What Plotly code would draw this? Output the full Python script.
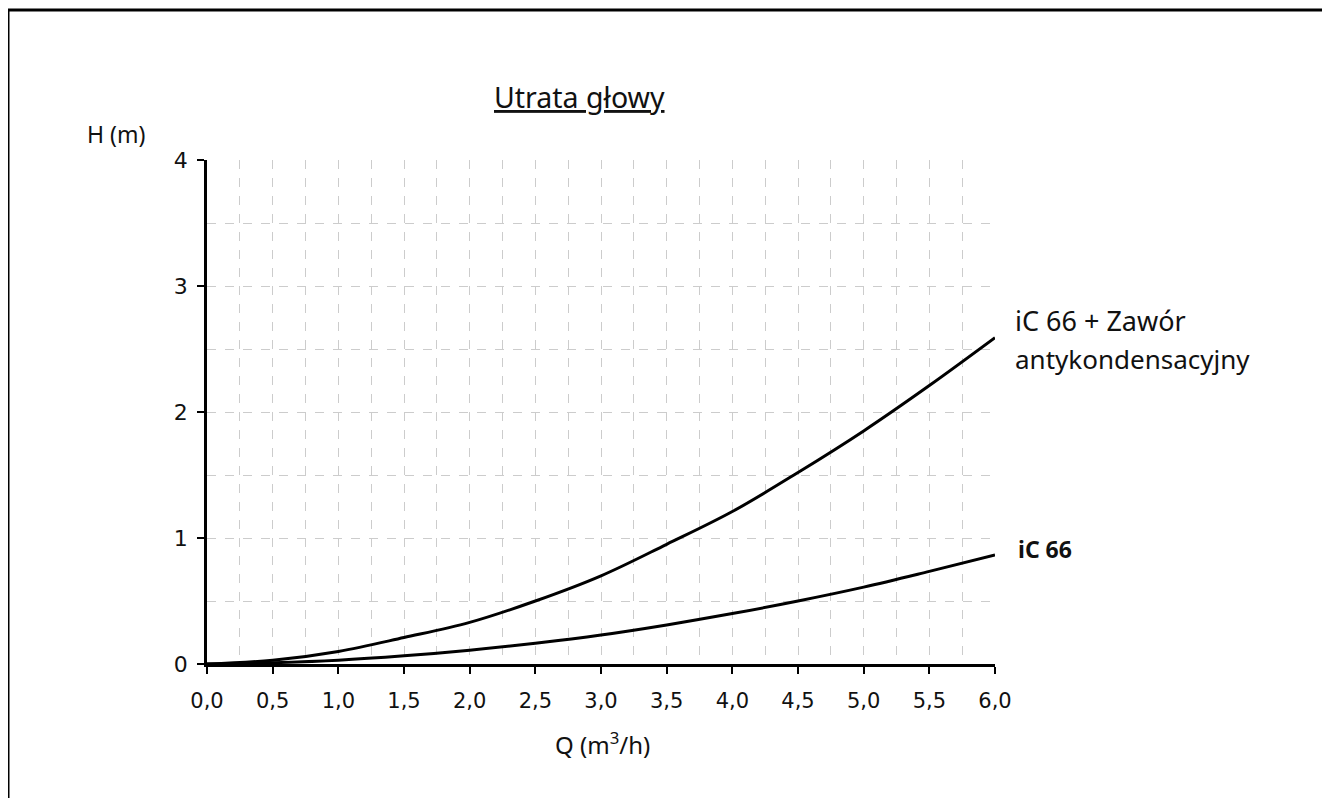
import plotly.graph_objects as go

q = [0.0, 0.5, 1.0, 1.5, 2.0, 2.5, 3.0, 3.5, 4.0, 4.5, 5.0, 5.5, 6.0]
h_valve = [0.0, 0.03, 0.10, 0.21, 0.33, 0.50, 0.70, 0.95, 1.21, 1.52, 1.85, 2.21, 2.59]
h_ic66 = [0.0, 0.01, 0.03, 0.065, 0.11, 0.165, 0.23, 0.31, 0.40, 0.50, 0.61, 0.735, 0.865]

x_ticks = [0.0, 0.5, 1.0, 1.5, 2.0, 2.5, 3.0, 3.5, 4.0, 4.5, 5.0, 5.5, 6.0]
y_ticks = [0, 1, 2, 3, 4]

OFF = 8  # page body margin
W, H = 1330 - OFF, 799 - OFF
L, R, T, B = 207 - OFF, 995 - OFF, 160 - OFF, 664 - OFF

def px(xp):
    return (xp - OFF - L) / (R - L)

def py(yp):
    return (B - (yp - OFF)) / (B - T)

fig = go.Figure()
for yv in (h_valve, h_ic66):
    fig.add_trace(go.Scatter(x=q, y=yv, mode="lines",
                             line=dict(color="black", width=3, shape="spline", smoothing=1.0),
                             showlegend=False, hoverinfo="skip"))

grid = dict(showgrid=True, gridcolor="#cccccc", gridwidth=1, griddash="dash")
TXT = "#111111"

fig.update_layout(
    width=W, height=H,
    margin=dict(l=L, r=W - R, t=T, b=H - B),
    plot_bgcolor="white", paper_bgcolor="white",
    separators=", ",
    font=dict(family="DejaVu Sans", color=TXT),
    xaxis=dict(range=[0, 6], tickvals=x_ticks, tickformat=".1f",
               ticks="outside", ticklen=7, tickwidth=2, tickcolor="black",
               showline=True, linecolor="black", linewidth=2.5,
               ticklabelstandoff=9,
               zeroline=False, tickfont=dict(size=21, family="DejaVu Sans", color=TXT),
               minor=dict(dtick=0.25, showgrid=True, gridcolor="#cccccc", griddash="dash", gridwidth=1),
               **grid),
    yaxis=dict(range=[0, 4], tickvals=y_ticks,
               ticks="outside", ticklen=7, tickwidth=2, tickcolor="black",
               showline=True, linecolor="black", linewidth=2.5,
               ticklabelstandoff=5,
               zeroline=False, tickfont=dict(size=22, family="DejaVu Sans", color=TXT),
               minor=dict(dtick=0.5, showgrid=True, gridcolor="#cccccc", griddash="dash", gridwidth=1),
               **grid),
)

# frame around figure
fig.add_shape(type="line", xref="paper", yref="paper", x0=px(8), x1=px(1329), y0=py(10), y1=py(10),
              line=dict(color="black", width=3))
fig.add_shape(type="line", xref="paper", yref="paper", x0=px(8), x1=px(8), y0=py(10), y1=py(798),
              line=dict(color="black", width=3))

fig.add_annotation(xref="paper", yref="paper", x=px(579), y=py(97), text="Utrata głowy",
                   showarrow=False, xanchor="center", yanchor="middle",
                   font=dict(family="Noto Sans", size=28.5, color=TXT, lineposition="under"))
fig.add_annotation(xref="paper", yref="paper", x=px(116), y=py(134), text="H (m)",
                   showarrow=False, xanchor="center", yanchor="middle",
                   font=dict(family="Noto Sans", size=23, color=TXT))
fig.add_annotation(xref="paper", yref="paper", x=px(602), y=py(743), text="Q (m<sup>3</sup>/h)",
                   showarrow=False, xanchor="center", yanchor="middle",
                   font=dict(family="Noto Sans", size=24, color=TXT))
fig.add_annotation(xref="paper", yref="paper", x=px(1013), y=py(320),
                   text="iC 66 + Zawór",
                   showarrow=False, xanchor="left", yanchor="middle", align="left",
                   font=dict(family="Noto Sans", size=27, color=TXT))
fig.add_annotation(xref="paper", yref="paper", x=px(1013), y=py(359),
                   text="antykondensacyjny",
                   showarrow=False, xanchor="left", yanchor="middle", align="left",
                   font=dict(family="Noto Sans", size=26, color=TXT))
fig.add_annotation(xref="paper", yref="paper", x=px(1016), y=py(549), text="<b>iC 66</b>",
                   showarrow=False, xanchor="left", yanchor="middle",
                   font=dict(family="Noto Sans", size=23, color=TXT))

fig.write_html("out.html")
